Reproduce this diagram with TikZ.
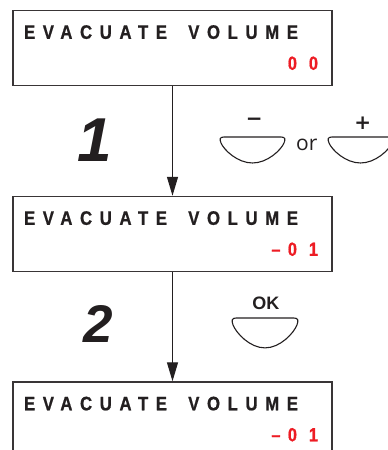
\documentclass[tikz,border=0pt]{standalone}
\usepackage{fontspec}
\setmainfont{Liberation Sans}
\newfontfamily\lcdfont[LetterSpace=39,FakeStretch=0.86,FakeBold=0.8]{Liberation Sans Bold}
\newfontfamily\stepfont{Liberation Sans Bold Italic}
\newfontfamily\orfont{Open Sans}
\newfontfamily\keyfont{DejaVu Sans Bold}
\usetikzlibrary{arrows.meta,calc}
\definecolor{ink}{HTML}{231F20}
\definecolor{lcdred}{HTML}{ED1C24}
\tikzset{
  >={Triangle[length=19pt,width=11pt]},
  screen/.style={draw=ink!90,line width=1.4pt,minimum width=319pt,minimum height=75pt,inner sep=0pt},
  title/.style={anchor=base west,inner sep=0pt,text=ink,font=\lcdfont\fontsize{19.5}{21}\selectfont},
  value/.style={anchor=base east,inner sep=0pt,text=lcdred,font=\lcdfont\fontsize{19}{21}\selectfont},
  stepnum/.style={anchor=base,inner sep=0pt,text=ink},
  flow/.style={->,draw=ink,line width=1.3pt},
  keyline/.style={draw=ink,line width=1.1pt},
  keylabel/.style={inner sep=0pt,text=ink},
  keycap/.pic={
    \draw[keyline] (-28.5,0) -- (28.5,0) .. controls (33,0) and (33,-2.5) .. (31.5,-6)
      .. controls (28.5,-13) and (15,-26) .. (0,-26)
      .. controls (-15,-26) and (-28.5,-13) .. (-31.5,-6)
      .. controls (-33,-2.5) and (-33,0) .. (-28.5,0) -- cycle;
  }
}
\begin{document}
\begin{tikzpicture}[x=1pt,y=1pt]
\useasboundingbox (0,0) rectangle (388,450);
% screens
\node[screen](scr1)at(172.5,402){};
\node[screen](scr2)at(172.5,216){};
\node[screen](scr3)at(172.5,30.5){};
\foreach \s/\v in {scr1/0 0,scr2/\textendash0 1,scr3/\textendash0 1}{
  \node[title](\s-t)at($(\s.north west)+(11.5,-29)$){EVACUATE\hspace{9pt} VOLUME};
  \node[value](\s-v)at($(\s.north east)+(-14.5,-60)$){\v};
}
% steps
\node[stepnum,font=\stepfont\fontsize{62}{62}\selectfont](one)at(95,288){1};
\node[stepnum,font=\stepfont\fontsize{53}{53}\selectfont](two)at(98,107){2};
\draw[flow](scr1)--(scr2);
\draw[flow](scr2)--(scr3);
% keys
\pic at(252.5,313){keycap};
\pic at(360.5,313){keycap};
\pic[xscale=1.015,yscale=1.15] at(265,132){keycap};
\node[keylabel,font=\keyfont\fontsize{20}{20}\selectfont](minus)at(254.2,328.3){\char"2212};
\node[keylabel,font=\keyfont\fontsize{20}{20}\selectfont](plus)at(362.8,326.7){+};
\node[keylabel,anchor=base west,font=\orfont\fontsize{21}{21}\selectfont](or)at(296,299.3){or};
\node[keylabel,anchor=base,font=\bfseries\fontsize{18}{18}\selectfont](ok)at(265.8,140){OK};
\end{tikzpicture}
\end{document}
